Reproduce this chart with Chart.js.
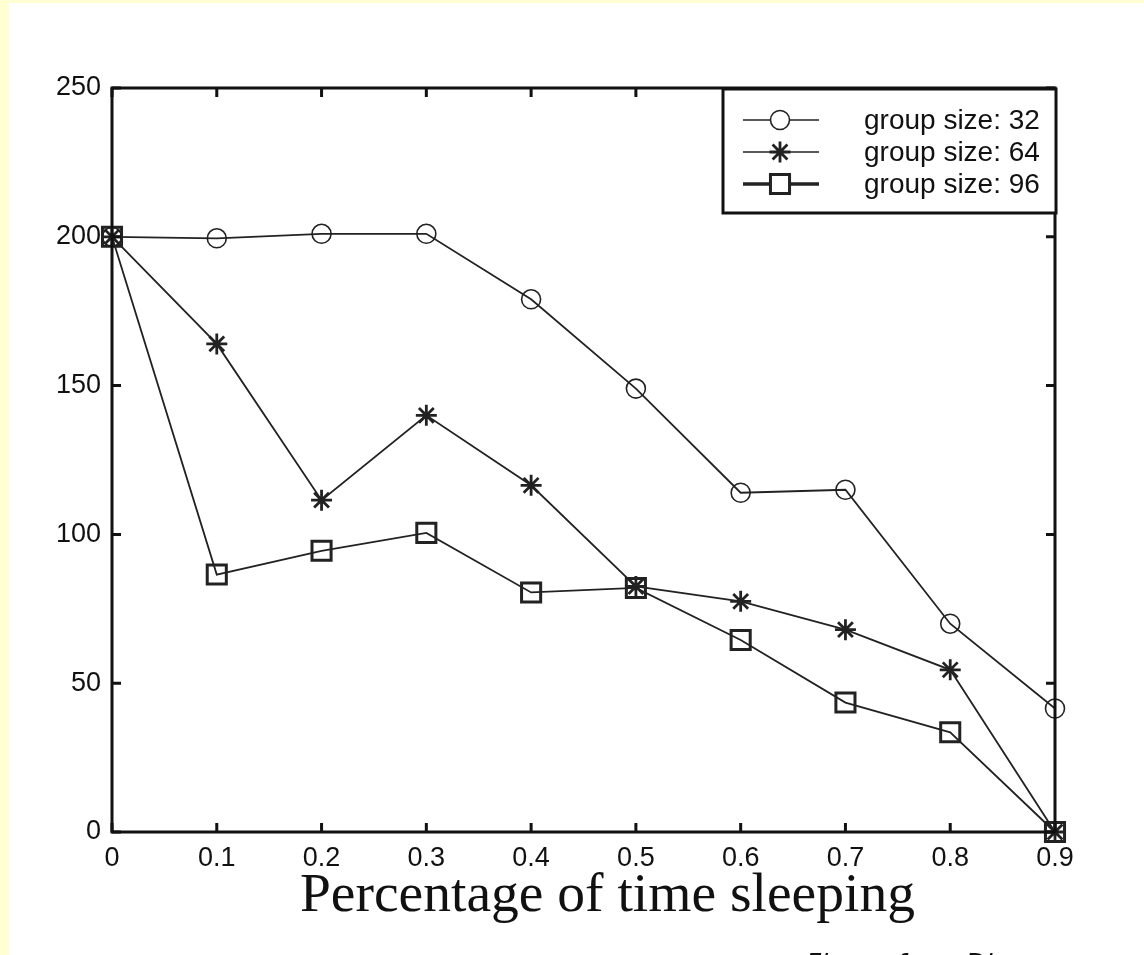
<!DOCTYPE html>
<html>
<head>
<meta charset="utf-8">
<script src="https://cdn.jsdelivr.net/npm/chart.js@4.4.1/dist/chart.umd.min.js"></script>
<style>
  html, body { margin: 0; padding: 0; }
  body { width: 1144px; height: 955px; background: #ffffd2; position: relative; overflow: hidden; }
  #paper { position: absolute; left: 9px; top: 3px; right: 0; bottom: 0; background: #fff; }
  #chart { position: absolute; left: 0; top: 0; }
  #xtitle { position: absolute; left: 300px; top: 861px; font-family: "Liberation Serif", "Times New Roman", serif; font-size: 55.5px; color: #111; white-space: nowrap; }
  #credit { position: absolute; left: 806px; top: 949px; font-family: "DejaVu Sans", sans-serif; font-style: italic; font-size: 26px; color: #111; white-space: nowrap; }
</style>
</head>
<body>
<div id="paper"></div>
<canvas id="chart" width="1144" height="955"></canvas>
<div id="xtitle">Percentage of time sleeping</div>
<div id="credit">Figure from Di</div>
<script>
// x values (fraction of time sleeping)
var sleepFraction = [0, 0.1, 0.2, 0.3, 0.4, 0.5, 0.6, 0.7, 0.8, 0.9];
// y values, one list per group size
var group32 = [200, 199.5, 201, 201, 179, 149, 114, 115, 70, 41.5];
var group64 = [200, 164, 111.5, 140, 116.5, 82.5, 77.5, 68, 54.5, 0];
var group96 = [200, 86.5, 94.5, 100.5, 80.5, 82, 64.5, 43.5, 33.5, 0];
var seriesNames = ['group size: 32', 'group size: 64', 'group size: 96'];
var xTickValues = [0, 0.1, 0.2, 0.3, 0.4, 0.5, 0.6, 0.7, 0.8, 0.9];
var yTickValues = [0, 50, 100, 150, 200, 250];

function pts(vals) {
    return vals.map(function(v, i){ return {x: sleepFraction[i], y: v}; });
}

var ink = '#222';

// box, inward ticks and legend, matlab style
var framePlugin = {
    id: 'frame',
    afterDatasetsDraw: function(chart) {
        var ctx = chart.ctx, a = chart.chartArea;
        var xs = chart.scales.x, ys = chart.scales.y;
        ctx.save();
        ctx.strokeStyle = '#111';
        ctx.lineWidth = 3;
        ctx.strokeRect(a.left, a.top, a.right - a.left, a.bottom - a.top);
        xTickValues.forEach(function(v){
            var px = xs.getPixelForValue(v);
            ctx.beginPath();
            ctx.moveTo(px, a.bottom); ctx.lineTo(px, a.bottom - 9);
            ctx.moveTo(px, a.top); ctx.lineTo(px, a.top + 9);
            ctx.stroke();
        });
        yTickValues.forEach(function(v){
            var py = ys.getPixelForValue(v);
            ctx.beginPath();
            ctx.moveTo(a.left, py); ctx.lineTo(a.left + 9, py);
            ctx.moveTo(a.right, py); ctx.lineTo(a.right - 9, py);
            ctx.stroke();
        });

        // legend box
        var bx = 723, by = 89, bw = 333, bh = 124;
        ctx.fillStyle = '#fff';
        ctx.fillRect(bx, by, bw, bh);
        ctx.lineWidth = 3;
        ctx.strokeStyle = '#111';
        ctx.strokeRect(bx, by, bw, bh);
        var rows = [120, 152, 184];
        ctx.font = '28px "Liberation Sans", Arial, sans-serif';
        ctx.textBaseline = 'middle';
        chart.data.datasets.forEach(function(ds, i){
            var y = rows[i];
            ctx.strokeStyle = ink;
            ctx.lineWidth = i === 2 ? 3.5 : 1.5;
            ctx.beginPath();
            ctx.moveTo(743, y); ctx.lineTo(819, y);
            ctx.stroke();
            ctx.fillStyle = '#fff';
            ctx.lineWidth = ds.pointBorderWidth;
            Chart.helpers.drawPoint(ctx, {
                pointStyle: ds.pointStyle,
                radius: ds.pointRadius,
                borderWidth: ds.pointBorderWidth
            }, 780, y);
            ctx.fillStyle = '#111';
            ctx.fillText(ds.label, 864, y + 1);
        });
        ctx.restore();
    }
};

function initChart() {
    var ctx = document.getElementById('chart').getContext('2d');
    var styles = [
        {pointStyle: 'circle', pointRadius: 9.5, bw: 1.6},
        {pointStyle: 'star', pointRadius: 10.5, bw: 2.8},
        {pointStyle: 'rect', pointRadius: 13.5, bw: 3}
    ];
    var dataSets = [group32, group64, group96].map(function(vals, i){
        return {
            label: seriesNames[i],
            data: pts(vals),
            borderColor: ink,
            borderWidth: 1.8,
            pointStyle: styles[i].pointStyle,
            pointRadius: styles[i].pointRadius,
            pointBorderWidth: styles[i].bw,
            pointBorderColor: ink,
            pointBackgroundColor: 'rgba(0,0,0,0)',
            tension: 0,
            clip: false
        };
    });

    var chart = new Chart(ctx, {
        type: 'line',
        data: { datasets: dataSets },
        options: {
            responsive: false,
            animation: false,
            devicePixelRatio: 1,
            layout: { padding: { top: 88, right: 89, left: 0, bottom: 0 } },
            plugins: {
                legend: { display: false },
                tooltip: { enabled: false }
            },
            scales: {
                x: {
                    type: 'linear',
                    min: 0,
                    max: 0.9,
                    afterBuildTicks: function(scale){
                        scale.ticks = xTickValues.map(function(v){ return {value: v}; });
                    },
                    afterFit: function(scale){ scale.height = 123; },
                    grid: { display: false, drawTicks: false },
                    border: { display: false },
                    ticks: {
                        padding: 10,
                        color: '#111',
                        font: { family: '"Liberation Sans", Arial, sans-serif', size: 27 },
                        callback: function(v){ return String(Math.round(v * 10) / 10); }
                    }
                },
                y: {
                    min: 0,
                    max: 250,
                    afterBuildTicks: function(scale){
                        scale.ticks = yTickValues.map(function(v){ return {value: v}; });
                    },
                    afterFit: function(scale){ scale.width = 112; },
                    grid: { display: false, drawTicks: false },
                    border: { display: false },
                    ticks: {
                        padding: 11,
                        color: '#111',
                        font: { family: '"Liberation Sans", Arial, sans-serif', size: 27 }
                    }
                }
            }
        },
        plugins: [framePlugin]
    });
}
document.addEventListener('DOMContentLoaded', initChart);
</script>
</body>
</html>
